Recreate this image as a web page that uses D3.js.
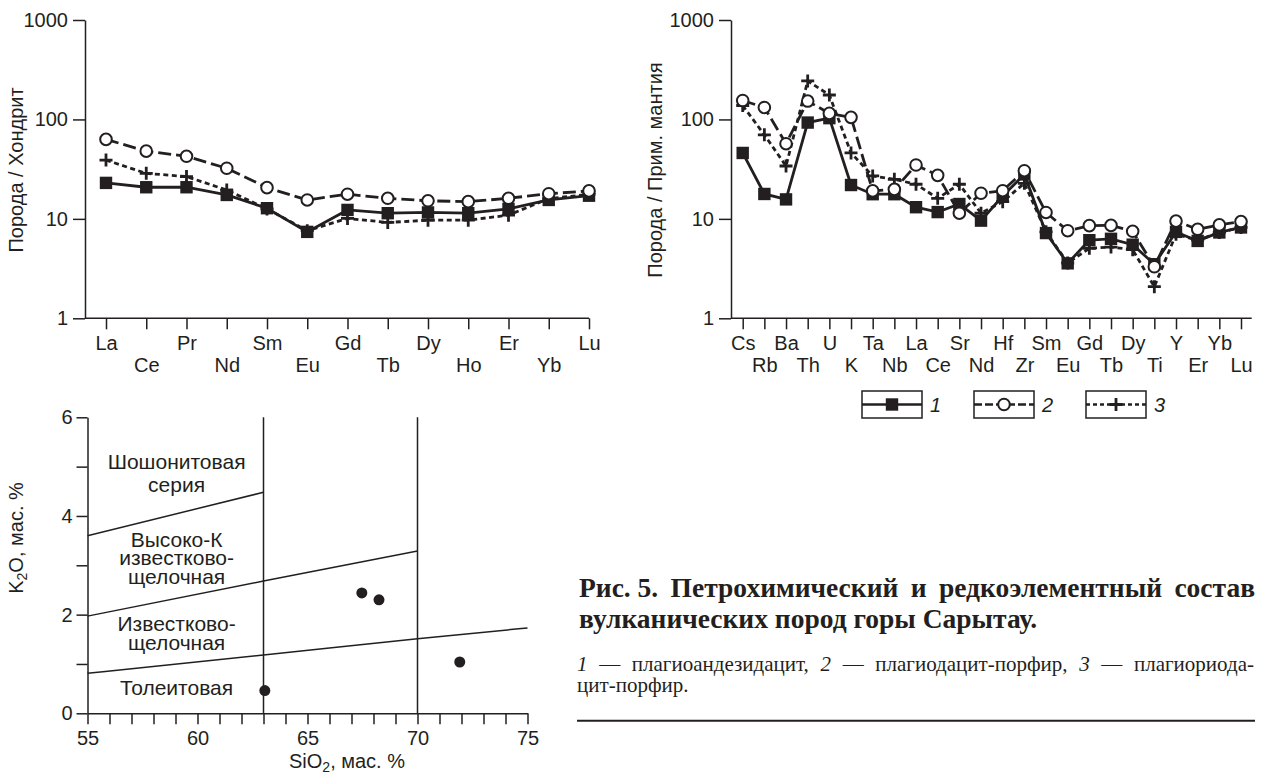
<!DOCTYPE html>
<html>
<head>
<meta charset="utf-8">
<script src="https://cdn.jsdelivr.net/npm/d3@7"></script>
<style>
  body { margin: 0; background: #fff; }
  svg text { fill: #231f20; }
</style>
</head>
<body>
<svg id="chart" width="1267" height="776"></svg>
<script>
// REE / chondrite
const ree = ["La", "Ce", "Pr", "Nd", "Sm", "Eu", "Gd", "Tb", "Dy", "Ho", "Er", "Yb", "Lu"];
const ree1 = [23, 20.8, 20.8, 17.4, 12.8, 7.4, 12.3, 11.4, 11.6, 11.4, 12.6, 15.5, 17.1];
const ree2 = [63, 48, 42.6, 32.3, 20.6, 15.5, 17.7, 16.1, 15.2, 14.9, 16.1, 17.9, 19.1];
const ree3 = [39, 28.7, 26.6, 19.5, 12.6, 7.6, 10.1, 9.2, 9.7, 9.7, 10.9, 16, 17.6];

// spider / primitive mantle
const spider = ["Cs", "Rb", "Ba", "Th", "U", "K", "Ta", "Nb", "La", "Ce", "Sr", "Nd",
  "Hf", "Zr", "Sm", "Eu", "Gd", "Tb", "Dy", "Ti", "Y", "Er", "Yb", "Lu"];
const pm1 = [46, 17.8, 15.7, 93, 103, 21.9, 17.7, 17.7, 13.1, 11.7, 14.1, 9.6,
  17, 28, 7.2, 3.57, 6.1, 6.3, 5.5, 3.5, 7.4, 6.0, 7.3, 8.2];
const pm2 = [155, 132, 57, 153, 115, 105, 19.1, 19.8, 34.8, 27.4, 11.4, 18.1,
  19.2, 30.5, 11.6, 7.6, 8.55, 8.6, 7.5, 3.3, 9.5, 7.85, 8.7, 9.4];
const pm3 = [138, 70, 34, 244, 176, 46, 27, 25, 22.3, 16.1, 22.3, 11.4,
  14.9, 22.8, 7.4, 3.6, 5.06, 5.2, 4.9, 2.08, 7.0, 6.1, 7.3, 8.2];

// K2O - SiO2
const sio2 = [67.47, 68.25, 71.92, 63.06];
const k2o = [2.44, 2.30, 1.04, 0.46];
const shoBound = [[55, 3.6], [63, 4.48]];
const hkBound = [[55, 1.97], [63, 2.68], [70, 3.29]];
const caBound = [[55, 0.81], [63, 1.18], [70, 1.51], [75, 1.73]];
const siDividers = [63, 70];
const fieldX = 59.05;
const fieldTop = [4.95, 3.38, 1.67, 0.37];
const fieldLines = [
  ["Шошонитовая", "серия"],
  ["Высоко-К", "известково-", "щелочная"],
  ["Известково-", "щелочная"],
  ["Толеитовая"]
];

const legendLabels = ["1", "2", "3"];

const ink = "#231f20";
const sans = '"Liberation Sans", Arial, Helvetica, sans-serif';
const serif = '"Liberation Serif", "Times New Roman", serif';
const fs = 20;

const svg = d3.select("#chart");

const styles = [
  { dash: null, marker: "square" },
  { dash: "13,5", marker: "circle" },
  { dash: "5,3.5", marker: "plus" }
];

function marker(g, type, cx, cy) {
  if (type === "square") {
    g.append("rect").attr("x", cx - 6.2).attr("y", cy - 6.2).attr("width", 12.4).attr("height", 12.4)
      .attr("fill", ink);
  } else if (type === "circle") {
    g.append("circle").attr("cx", cx).attr("cy", cy).attr("r", 5.8)
      .attr("fill", "#fff").attr("stroke", ink).attr("stroke-width", 2);
  } else {
    g.append("path").attr("d", `M${cx - 6.5},${cy}H${cx + 6.5}M${cx},${cy - 6.5}V${cy + 6.5}`)
      .attr("stroke", ink).attr("stroke-width", 2.8).attr("fill", "none");
  }
}

function logChart(cats, series, x0, x1, axisX, axisEnd, title, titleX) {
  const x = d3.scalePoint().domain(cats).range([x0, x1]);
  const y = d3.scaleLog().domain([1, 1000]).range([318.3, 20]);

  const gy = svg.append("g")
    .attr("transform", `translate(${axisX},0)`)
    .style("color", ink)
    .call(d3.axisLeft(y).tickValues([1, 10, 100, 1000]).tickFormat(d3.format("d"))
      .tickSize(12).tickPadding(5).tickSizeOuter(0));
  gy.attr("font-size", fs).attr("font-family", sans);
  gy.selectAll("line, path").attr("stroke-width", 1.5);

  const gx = svg.append("g")
    .attr("transform", "translate(0,318.3)")
    .style("color", ink)
    .call(d3.axisBottom(x).tickSize(11).tickSizeOuter(0));
  gx.attr("font-size", fs).attr("font-family", sans);
  gx.select(".domain").remove();
  gx.append("line").attr("x1", axisX).attr("x2", axisEnd)
    .attr("stroke", ink).attr("stroke-width", 1.5);
  gx.selectAll(".tick line").attr("stroke-width", 1.5);
  gx.selectAll(".tick text").attr("y", (d, i) => (i % 2 ? 40 : 18)).attr("dy", "0.71em");

  svg.append("text")
    .attr("transform", `translate(${titleX},170) rotate(-90)`)
    .attr("text-anchor", "middle").attr("dominant-baseline", "central")
    .attr("font-family", sans).attr("font-size", fs)
    .text(title);

  const line = d3.line().x((d, i) => x(cats[i])).y(d => y(d));
  series.forEach((s, k) => {
    svg.append("path").attr("d", line(s)).attr("fill", "none")
      .attr("stroke", ink).attr("stroke-width", 2.8)
      .attr("stroke-dasharray", styles[k].dash);
  });
  // markers: 3, then 1, then 2 on top
  [2, 0, 1].forEach(k => {
    const g = svg.append("g");
    series[k].forEach((v, i) => marker(g, styles[k].marker, x(cats[i]), y(v)));
  });
}

logChart(ree, [ree1, ree2, ree3], 106, 589, 85, 589, "Порода / Хондрит", 16);
logChart(spider, [pm1, pm2, pm3], 742.7, 1241, 731, 1251.7, "Порода / Прим. мантия", 655);

// legend
legendLabels.forEach((lab, k) => {
  const bx = 862 + k * 112, by = 391, bw = 60, bh = 27;
  const g = svg.append("g");
  g.append("rect").attr("x", bx).attr("y", by).attr("width", bw).attr("height", bh)
    .attr("fill", "#fff").attr("stroke", ink).attr("stroke-width", 1.5);
  g.append("line").attr("x1", bx).attr("x2", bx + bw).attr("y1", by + bh / 2).attr("y2", by + bh / 2)
    .attr("stroke", ink).attr("stroke-width", 2.4)
    .attr("stroke-dasharray", k === 1 ? "8,3" : k === 2 ? "4,3" : null);
  marker(g, styles[k].marker, bx + bw / 2, by + bh / 2);
  g.append("text").attr("x", bx + bw + 8).attr("y", by + bh / 2 + 7)
    .attr("font-family", sans).attr("font-size", fs).attr("font-style", "italic")
    .text(lab);
});

// K2O - SiO2 diagram
{
  const x = d3.scaleLinear().domain([55, 75]).range([87.5, 527.5]);
  const y = d3.scaleLinear().domain([0, 6]).range([713.3, 417.3]);

  const gx = svg.append("g").attr("transform", `translate(0,${y(0)})`).style("color", ink)
    .call(d3.axisBottom(x).tickValues(d3.range(55, 76)).tickSize(11).tickSizeOuter(0)
      .tickFormat(d => (d % 5 === 0 ? d : "")));
  gx.attr("font-size", fs).attr("font-family", sans);
  gx.selectAll("line, path").attr("stroke-width", 1.5);
  gx.selectAll(".tick text").attr("y", 18).attr("dy", "0.71em");

  const gy = svg.append("g").attr("transform", `translate(${x(55)},0)`).style("color", ink)
    .call(d3.axisLeft(y).tickValues(d3.range(0, 7)).tickSize(11).tickPadding(4).tickSizeOuter(0)
      .tickFormat(d => (d % 2 === 0 ? d : "")));
  gy.attr("font-size", fs).attr("font-family", sans);
  gy.selectAll("line, path").attr("stroke-width", 1.5);

  siDividers.forEach(v => {
    svg.append("line").attr("x1", x(v)).attr("x2", x(v)).attr("y1", y(0)).attr("y2", y(6))
      .attr("stroke", ink).attr("stroke-width", 1.5);
  });
  const bl = d3.line().x(d => x(d[0])).y(d => y(d[1])).curve(d3.curveMonotoneX);
  [shoBound, hkBound, caBound].forEach(b => {
    svg.append("path").attr("d", bl(b)).attr("fill", "none")
      .attr("stroke", ink).attr("stroke-width", 1.5);
  });

  const leads = [23, 18.7, 19.3, 0];
  fieldLines.forEach((lines, k) => {
    const t = svg.append("text").attr("font-family", sans).attr("font-size", 21)
      .attr("text-anchor", "middle");
    lines.forEach((l, i) => {
      t.append("tspan").attr("x", x(fieldX)).attr("y", y(fieldTop[k]) + i * leads[k]).text(l);
    });
  });

  svg.append("g").selectAll("circle").data(sio2).join("circle")
    .attr("cx", d => x(d)).attr("cy", (d, i) => y(k2o[i])).attr("r", 5.5).attr("fill", ink);

  const tx = svg.append("text").attr("x", 347).attr("y", 768)
    .attr("text-anchor", "middle").attr("font-family", sans).attr("font-size", fs);
  tx.append("tspan").text("SiO");
  tx.append("tspan").attr("font-size", 14).attr("dy", 4).text("2");
  tx.append("tspan").attr("dy", -4).text(", мас. %");

  const ty = svg.append("text").attr("transform", "translate(23,538) rotate(-90)")
    .attr("text-anchor", "middle").attr("font-family", sans).attr("font-size", fs);
  ty.append("tspan").text("K");
  ty.append("tspan").attr("font-size", 14).attr("dy", 4).text("2");
  ty.append("tspan").attr("dy", -4).text("O, мас. %");
}

// caption
function justified(words, x0, x1, yb, size, weight) {
  const items = words.map(w => {
    const t = svg.append("text").attr("y", yb).attr("font-family", serif)
      .attr("font-size", size).attr("font-weight", weight)
      .attr("font-style", w.italic ? "italic" : null).text(w.t);
    return { t, w: t.node().getComputedTextLength() };
  });
  const total = d3.sum(items, d => d.w);
  const gap = (x1 - x0 - total) / (items.length - 1);
  let cx = x0;
  items.forEach(it => { it.t.attr("x", cx); cx += it.w + gap; });
}
const W = s => s.split(" ").map(t => ({ t, italic: /^[123]$/.test(t) }));

justified([{ t: "Рис.\u00a05." }].concat(W("Петрохимический и редкоэлементный состав")),
  579, 1255, 597, 27.5, "bold");
svg.append("text").attr("x", 579).attr("y", 628).attr("font-family", serif)
  .attr("font-size", 27.5).attr("font-weight", "bold").text("вулканических пород горы Сарытау.");

justified(W("1 — плагиоандезидацит, 2 — плагиодацит-порфир, 3 — плагиориода-"),
  577, 1254, 670.7, 21, "normal");
svg.append("text").attr("x", 577).attr("y", 691.7).attr("font-family", serif)
  .attr("font-size", 21).text("цит-порфир.");

svg.append("line").attr("x1", 577).attr("x2", 1255).attr("y1", 720.7).attr("y2", 720.7)
  .attr("stroke", ink).attr("stroke-width", 2);
</script>
</body>
</html>
